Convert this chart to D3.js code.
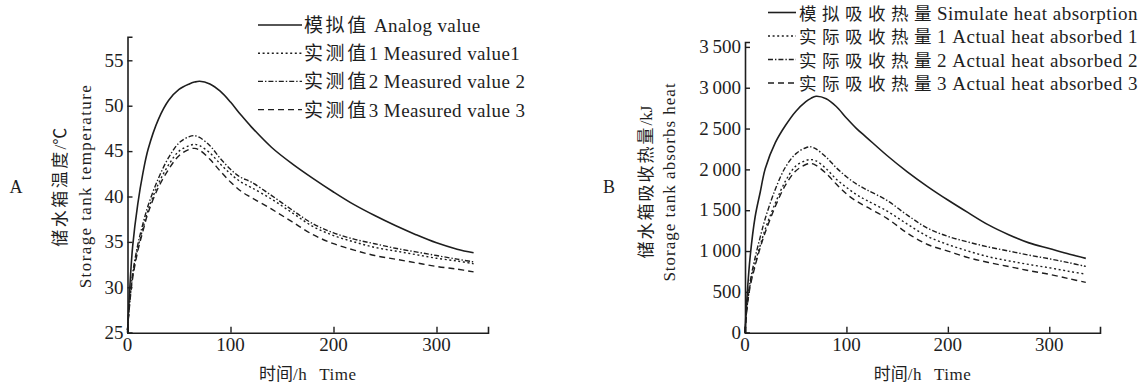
<!DOCTYPE html>
<html>
<head>
<meta charset="utf-8">
<script src="https://cdn.jsdelivr.net/npm/d3@7"></script>
<style>
  body { margin: 0; background: #fff; }
  svg text { white-space: pre; }
</style>
</head>
<body>
<svg id="chart" width="1142" height="387"></svg>
<script>
// time axis (h), shared by both panels
var timeH = [0, 2, 5, 10, 15, 20, 30, 40, 50, 60, 65, 70, 80, 90, 100, 110, 120, 140, 160, 180, 200, 220, 240, 260, 280, 300, 320, 336];

// panel A: storage tank temperature (degC)
var tempSim = [25, 29.5, 34.5, 39.2, 42.6, 45.2, 48.5, 50.6, 51.8, 52.4, 52.6, 52.7, 52.4, 51.6, 50.4, 49.0, 47.7, 45.4, 43.6, 42.0, 40.5, 39.1, 37.9, 36.8, 35.8, 34.9, 34.2, 33.8];
var tempM1 = [25.3, 28.2, 31.2, 34.3, 36.5, 38.5, 41.4, 43.5, 45.0, 45.6, 45.75, 45.6, 44.8, 43.6, 42.5, 41.6, 41.0, 39.7, 38.2, 36.7, 35.7, 35.0, 34.4, 34.0, 33.6, 33.2, 32.9, 32.6];
var tempM2 = [25.3, 28.4, 31.5, 34.7, 37.0, 39.0, 42.0, 44.3, 45.9, 46.6, 46.7, 46.5, 45.6, 44.2, 43.0, 42.1, 41.6, 40.1, 38.5, 37.0, 36.0, 35.3, 34.8, 34.3, 33.9, 33.5, 33.1, 32.8];
var tempM3 = [25.3, 28.0, 31.0, 34.0, 36.2, 38.2, 41.0, 43.0, 44.5, 45.2, 45.3, 45.1, 44.1, 42.8, 41.6, 40.6, 39.9, 38.6, 37.2, 35.8, 34.8, 34.1, 33.5, 33.1, 32.7, 32.3, 32.0, 31.7];

// panel B: heat absorbed by storage tank (kJ)
var heatSim = [0, 440, 920, 1420, 1720, 2010, 2330, 2540, 2710, 2830, 2870, 2895, 2865, 2770, 2630, 2500, 2390, 2170, 1970, 1790, 1625, 1470, 1320, 1200, 1100, 1030, 960, 910];
var heatM1 = [0, 310, 580, 850, 1070, 1270, 1590, 1860, 2040, 2110, 2120, 2105, 2010, 1880, 1780, 1690, 1620, 1490, 1330, 1180, 1080, 1000, 930, 880, 835, 795, 750, 717];
var heatM2 = [0, 330, 620, 920, 1170, 1400, 1760, 2030, 2190, 2265, 2276, 2250, 2150, 2020, 1910, 1820, 1750, 1620, 1440, 1280, 1180, 1110, 1050, 1000, 950, 905, 855, 812];
var heatM3 = [0, 300, 560, 820, 1040, 1230, 1550, 1810, 1980, 2060, 2072, 2050, 1950, 1820, 1700, 1610, 1540, 1400, 1220, 1080, 1000, 920, 860, 810, 760, 715, 660, 616];

var xTicks = [0, 100, 200, 300];
var tempTicks = [25, 30, 35, 40, 45, 50, 55];
var heatTicks = [0, 500, 1000, 1500, 2000, 2500, 3000, 3500];

var tempNames = ["模拟值 Analog value", "实测值1 Measured value1", "实测值2 Measured value 2", "实测值3 Measured value 3"];
var heatNames = ["模拟吸收热量Simulate heat absorption", "实际吸收热量1 Actual heat absorbed 1", "实际吸收热量2 Actual heat absorbed 2", "实际吸收热量3 Actual heat absorbed 3"];

var SERIF = "'Liberation Serif', 'Times New Roman', serif";
var CJK = "'Noto Sans CJK SC', sans-serif";
var INK = "#1e1e1e";
var dashes = [null, "2,2.6", "5,2,1.4,2", "6,4"];
var widths = [1.6, 1.4, 1.4, 1.4];

var svg = d3.select("#chart");
svg.append("rect").attr("width", 1142).attr("height", 387).attr("fill", "#fff");

// write text with chinese and latin parts in their own font
function mixed(sel, str, cjkSpace, latSpace, cjkSize) {
	var runs = str.match(/[\u2103\u3000-\u9fff]+|[^\u2103\u3000-\u9fff]+/g);
	runs.forEach(function(r){
		var isCjk = /[\u2103\u3000-\u9fff]/.test(r);
		var ts = sel.append("tspan")
			.attr("font-family", isCjk ? CJK : SERIF)
			.attr("letter-spacing", isCjk ? cjkSpace : latSpace)
			.text(r);
		if (isCjk && cjkSize) ts.attr("font-size", cjkSize);
	});
	return sel;
}

function panel(cfg) {
	var x = d3.scaleLinear().domain([0, 350]).range(cfg.xRange);
	var y = d3.scaleLinear().domain(cfg.yDomain).range(cfg.yRange);
	var g = svg.append("g");

	var line = d3.line()
		.x(function(d){ return x(d[0]); })
		.y(function(d){ return y(d[1]); })
		.curve(d3.curveCatmullRom.alpha(0.5));

	cfg.series.forEach(function(s, i){
		g.append("path")
			.datum(timeH.map(function(t, j){ return [t, s[j]]; }))
			.attr("d", line)
			.attr("fill", "none")
			.attr("stroke", INK)
			.attr("stroke-width", widths[i])
			.attr("stroke-dasharray", dashes[i]);
	});

	// axes, ticks pointing inwards
	var xAxis = g.append("g")
		.attr("transform", "translate(0," + cfg.yRange[0] + ")")
		.call(d3.axisTop(x).tickValues(xTicks).tickSize(6).tickFormat(""));
	var yAxis = g.append("g")
		.attr("transform", "translate(" + cfg.xRange[0] + ",0)")
		.call(d3.axisRight(y).tickValues(cfg.yTicks).tickSize(5).tickFormat(""));
	[xAxis, yAxis].forEach(function(a){
		a.select(".domain").attr("stroke", INK).attr("stroke-width", 1.6);
		a.selectAll(".tick line").attr("stroke", INK).attr("stroke-width", 1.4);
	});

	g.selectAll(".xlab").data(xTicks).enter().append("text")
		.attr("x", function(d){ return x(d); })
		.attr("y", cfg.yRange[0] + 18)
		.attr("text-anchor", "middle")
		.attr("font-family", SERIF).attr("font-size", 19).attr("fill", INK)
		.text(function(d){ return d; });

	g.selectAll(".ylab").data(cfg.yTicks).enter().append("text")
		.attr("x", cfg.xRange[0] - 4)
		.attr("y", function(d){ return y(d); })
		.attr("dy", "0.33em")
		.attr("text-anchor", "end")
		.attr("font-family", SERIF).attr("font-size", 19).attr("fill", INK)
		.text(cfg.yFormat);

	// axis titles
	var xt = g.append("text")
		.attr("x", (cfg.xRange[0] + cfg.xRange[1]) / 2)
		.attr("y", 380)
		.attr("text-anchor", "middle")
		.attr("font-size", 17).attr("fill", INK);
	mixed(xt, "时间/h", 0, 0.5);
	xt.append("tspan").attr("font-family", SERIF).attr("dx", 12).attr("letter-spacing", 0.5).text("Time");

	cfg.yTitles.forEach(function(t, i){
		var yt = g.append("text")
			.attr("transform", "translate(" + t.x + "," + cfg.yTitleMid + ") rotate(-90)")
			.attr("text-anchor", "middle")
			.attr("font-size", 17).attr("fill", INK);
		mixed(yt, t.text, t.cjk, t.lat);
	});

	g.append("text")
		.attr("x", cfg.tag[0]).attr("y", cfg.tag[1])
		.attr("text-anchor", "middle")
		.attr("font-family", SERIF).attr("font-size", 18).attr("fill", INK)
		.text(cfg.tag[2]);

	// legend
	var lg = cfg.legend;
	cfg.names.forEach(function(n, i){
		var by = lg.y0 + i * lg.step;
		g.append("line")
			.attr("x1", lg.x1).attr("x2", lg.x2)
			.attr("y1", by - 7).attr("y2", by - 7)
			.attr("stroke", INK)
			.attr("stroke-width", widths[i])
			.attr("stroke-dasharray", dashes[i]);
		var lt = g.append("text")
			.attr("x", lg.tx).attr("y", by)
			.attr("font-size", 19).attr("fill", INK);
		mixed(lt, n, lg.cjk, lg.lat, lg.cjkSize);
	});
}

panel({
	xRange: [127.5, 488],
	yDomain: [25, 57.6],
	yRange: [332.7, 36.7],
	yTicks: tempTicks,
	yFormat: function(d){ return d; },
	series: [tempSim, tempM1, tempM2, tempM3],
	names: tempNames,
	yTitleMid: 186,
	yTitles: [
		{x: 66, text: "储水箱温度/℃", cjk: 2.5, lat: 0},
		{x: 91, text: "Storage tank temperature", cjk: 0, lat: 1.4}
	],
	tag: [16, 193, "A"],
	legend: {x1: 258, x2: 302, tx: 304, y0: 32, step: 28.2, cjk: 2.6, lat: 0.4}
});

panel({
	xRange: [745, 1100],
	yDomain: [0, 3560],
	yRange: [332.7, 42],
	yTicks: heatTicks,
	yFormat: function(d){ return d3.format(",")(d).replace(",", "\u2009"); },
	series: [heatSim, heatM1, heatM2, heatM3],
	names: heatNames,
	yTitleMid: 182,
	yTitles: [
		{x: 652, text: "储水箱吸收热量/kJ", cjk: 2, lat: 0},
		{x: 675, text: "Storage tank absorbs heat", cjk: 0, lat: 1}
	],
	tag: [609, 193, "B"],
	legend: {x1: 768, x2: 796, tx: 799, y0: 19.5, step: 23.5, cjk: 5.5, lat: 0.5, cjkSize: 17.5}
});
</script>
</body>
</html>
